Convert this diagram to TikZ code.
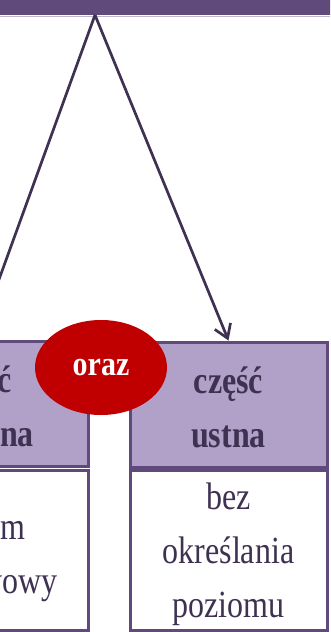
\documentclass[tikz,border=0pt]{standalone}
\usepackage{fontspec}
\setmainfont{Liberation Serif}
\usetikzlibrary{arrows.meta,shapes.geometric}
\definecolor{barpurple}{HTML}{604A7B}
\definecolor{headfill}{HTML}{B1A0C7}
\definecolor{textpurple}{HTML}{3F3151}
\definecolor{orazred}{HTML}{C00000}
\newcommand{\tallstack}[1]{\scalebox{1}[1.2]{\begin{tabular}{@{}c@{}}#1\end{tabular}}}
\begin{document}
\begin{tikzpicture}[x=1pt,y=-1pt,
  hdr/.style={draw=barpurple,line width=3pt,fill=headfill,minimum height=125pt,inner sep=0pt},
  body/.style={draw=barpurple,line width=3pt,fill=white,minimum height=160pt,inner sep=0pt},
  hdrtext/.style={text=textpurple,font=\fontsize{32}{45}\selectfont\bfseries,inner sep=0pt},
  bodytext/.style={text=textpurple,font=\fontsize{32}{45}\selectfont,inner sep=0pt},
  conn/.style={draw=textpurple,line width=2.7pt,-{Straight Barb[length=13pt,width=17pt,line width=2.7pt]}},
  orazbox/.style={ellipse,fill=orazred,minimum width=132pt,minimum height=95pt,
    text=white,font=\fontsize{30}{36}\selectfont\bfseries,inner sep=0pt}]
\useasboundingbox (0,0) rectangle (330,632);
\clip (0,0) rectangle (330,632);
\node[fill=barpurple,minimum width=350pt,minimum height=20pt,inner sep=0pt] (topbar) at (165,5) {};
\draw[barpurple!40,line width=1.5pt] (0,16.5) -- (330,16.5);
\coordinate (apex) at (95,15);
\node[hdr,minimum width=222pt] (lhead) at (-23,404) {};
\node[body,minimum width=222pt] (lbody) at (-23,550) {};
\node[hdr,minimum width=197pt] (rhead) at (228.5,404.5) {};
\node[body,minimum width=197pt] (rbody) at (228.5,550) {};
\node[hdrtext] (lheadtext) at ([yshift=-5pt]lhead.center) {\tallstack{część\\pisemna}};
\node[bodytext] (lbodytext) at ([yshift=-6pt]lbody.center) {\tallstack{poziom\\podstawowy}};
\node[hdrtext] (rheadtext) at ([yshift=-5pt]rhead.center) {\tallstack{część\\ustna}};
\node[bodytext] (rbodytext) at ([yshift=-3pt]rbody.center) {\tallstack{bez\\określania\\poziomu}};
\draw[conn] (apex) -- (lhead.north);
\draw[conn] (apex) -- (rhead.north);
\node[orazbox] (oraz) at (101,367.5) {\raisebox{-3pt}{\scalebox{1}[1.15]{oraz}}};
\end{tikzpicture}
\end{document}
